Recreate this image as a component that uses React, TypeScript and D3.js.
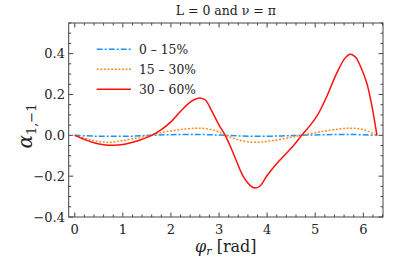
import React from "react";
import * as d3 from "d3";

const redX = [0, 0.2, 0.4, 0.6, 0.8, 1.0, 1.2, 1.4, 1.6, 1.8, 2.0, 2.2, 2.4, 2.52, 2.62, 2.72, 2.85, 3.0, 3.13, 3.3, 3.5, 3.65, 3.75, 3.85, 4.0, 4.2, 4.4, 4.55, 4.72, 4.9, 5.05, 5.24, 5.45, 5.62, 5.73, 5.84, 5.94, 6.07, 6.18, 6.283];
const redY = [0, -0.02, -0.036, -0.046, -0.049, -0.045, -0.034, -0.019, 0.0, 0.028, 0.066, 0.118, 0.163, 0.178, 0.182, 0.172, 0.118, 0.05, 0.0, -0.09, -0.2, -0.246, -0.258, -0.248, -0.197, -0.138, -0.088, -0.05, 0.0, 0.05, 0.1, 0.19, 0.306, 0.378, 0.397, 0.382, 0.338, 0.257, 0.142, 0.0];

const orangeX = [0, 0.3, 0.5, 0.7, 0.9, 1.2, 1.57, 1.9, 2.3, 2.6, 2.9, 3.14, 3.4, 3.7, 4.0, 4.4, 4.71, 5.1, 5.5, 5.75, 6.0, 6.283];
const orangeY = [0, -0.02, -0.03, -0.034, -0.03, -0.017, 0, 0.018, 0.031, 0.035, 0.025, 0, -0.022, -0.034, -0.03, -0.014, 0, 0.017, 0.031, 0.035, 0.028, 0];

const blueX = [0, 0.4, 0.8, 1.2, 1.57, 2.0, 2.6, 3.14, 3.7, 4.3, 4.71, 5.2, 5.75, 6.283];
const blueY = [0, -0.004, -0.005, -0.004, 0, 0.003, 0.004, 0, -0.005, -0.003, 0, 0.003, 0.004, 0];

const seriesNames = ["0 – 15%", "15 – 30%", "30 – 60%"];
const xTicks = [0, 1, 2, 3, 4, 5, 6];
const yTicks = [-0.4, -0.2, 0.0, 0.2, 0.4];
const title = "L = 0 and ν = π";

const W = 407, H = 265;
const left = 68.7, right = 383, top = 23, bottom = 217;
const FONT = "DejaVu Serif";

export default function App() {
  const x = d3.scaleLinear().domain([-0.1257, 6.409]).range([left, right]);
  const y = d3.scaleLinear().domain([-0.4, 0.55]).range([bottom, top]);
  const line = (xs: number[], ys: number[]) =>
    d3.line<number>().x((_, i) => x(xs[i])).y((d) => y(d)).curve(d3.curveCatmullRom.alpha(0.5))(ys) || "";

  const xMinor = d3.range(0, 6.41, 0.2).filter((v) => Math.abs(v - Math.round(v)) > 1e-6);
  const yMinor = d3.range(-0.4, 0.551, 0.05).filter((v) => Math.abs(v / 0.2 - Math.round(v / 0.2)) > 1e-6);
  const frameColor = "#444";
  const tickLen = 4.5, minorLen = 2.5;

  const series = [
    { name: seriesNames[0], d: line(blueX, blueY), color: "#1E90FF", dash: "6,2,2,2" },
    { name: seriesNames[1], d: line(orangeX, orangeY), color: "#FF8C1A", dash: "2,1.6" },
    { name: seriesNames[2], d: line(redX, redY), color: "#FF1010", dash: undefined },
  ];

  return (
    <div style={{ position: "fixed", left: 0, top: 0 }}>
      <svg width={W} height={H} style={{ display: "block", background: "#fff" }}>
        <defs>
          <clipPath id="clip">
            <rect x={left} y={top} width={right - left} height={bottom - top} />
          </clipPath>
        </defs>
        <text x={(left + right) / 2} y={15} textAnchor="middle" fontFamily={FONT} fontSize={12.5} fill="#222">
          {title}
        </text>
        <g clipPath="url(#clip)">
          {series.map((s) => (
            <path key={s.name} d={s.d} fill="none" stroke={s.color} strokeWidth={1.5} strokeDasharray={s.dash} />
          ))}
        </g>
        <rect x={left} y={top} width={right - left} height={bottom - top} fill="none" stroke={frameColor} strokeWidth={1} />
        {xTicks.map((t) => (
          <g key={"xt" + t}>
            <line x1={x(t)} x2={x(t)} y1={bottom} y2={bottom - tickLen} stroke={frameColor} />
            <line x1={x(t)} x2={x(t)} y1={top} y2={top + tickLen} stroke={frameColor} />
            <text x={x(t)} y={234} textAnchor="middle" fontFamily={FONT} fontSize={13} fill="#222">
              {t}
            </text>
          </g>
        ))}
        {xMinor.map((t) => (
          <g key={"xm" + t}>
            <line x1={x(t)} x2={x(t)} y1={bottom} y2={bottom - minorLen} stroke={frameColor} />
            <line x1={x(t)} x2={x(t)} y1={top} y2={top + minorLen} stroke={frameColor} />
          </g>
        ))}
        {yTicks.map((t) => (
          <g key={"yt" + t}>
            <line x1={left} x2={left + tickLen} y1={y(t)} y2={y(t)} stroke={frameColor} />
            <line x1={right} x2={right - tickLen} y1={y(t)} y2={y(t)} stroke={frameColor} />
            <text x={65} y={y(t)} dy="0.36em" textAnchor="end" fontFamily={FONT} fontSize={13} fill="#222">
              {t < 0 ? "−" + Math.abs(t).toFixed(1) : t.toFixed(1)}
            </text>
          </g>
        ))}
        {yMinor.map((t) => (
          <g key={"ym" + t}>
            <line x1={left} x2={left + minorLen} y1={y(t)} y2={y(t)} stroke={frameColor} />
            <line x1={right} x2={right - minorLen} y1={y(t)} y2={y(t)} stroke={frameColor} />
          </g>
        ))}
        {series.map((s, i) => (
          <g key={"lg" + i}>
            <line x1={96.7} x2={131} y1={49.3 + i * 20} y2={49.3 + i * 20} stroke={s.color} strokeWidth={1.5} strokeDasharray={s.dash} />
            <text x={139} y={49.3 + i * 20} dy="0.36em" fontFamily={FONT} fontSize={12.3} fill="#222">
              {s.name}
            </text>
          </g>
        ))}
        <text x={(left + right) / 2} y={252} textAnchor="middle" fontFamily={FONT} fontSize={16} fill="#222">
          <tspan fontStyle="italic">φ</tspan>
          <tspan fontStyle="italic" fontSize={11} dy={3}>r</tspan>
          <tspan dy={-3}> [rad]</tspan>
        </text>
        <text transform={`translate(32,${(top + bottom) / 2 + 6}) rotate(-90)`} textAnchor="middle" fontFamily={FONT} fontSize={20} fill="#222">
          <tspan fontStyle="italic">α</tspan>
          <tspan fontSize={13} dy={4}>1,−1</tspan>
        </text>
      </svg>
    </div>
  );
}
